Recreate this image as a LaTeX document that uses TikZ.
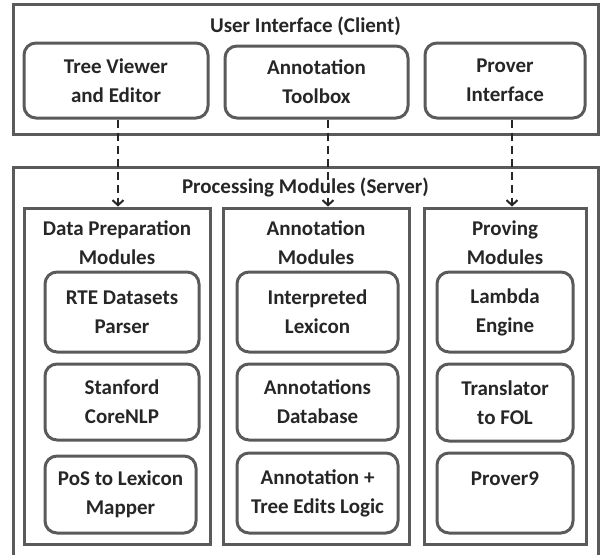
\documentclass[tikz,border=0pt]{standalone}
\usepackage{fontspec}
\setmainfont{Carlito}
\usetikzlibrary{arrows.meta}
\definecolor{linegray}{HTML}{5A5A5A}
\definecolor{txt}{HTML}{262626}
\tikzset{
  outerbox/.style={draw=linegray, line width=3pt, rectangle, inner sep=0pt},
  subbox/.style={draw=linegray, line width=3pt, rectangle, inner sep=0pt},
  modbox/.style={draw=linegray, line width=3pt, rectangle, rounded corners=12pt, inner sep=0pt, align=center, text=txt,
     font=\fontsize{21}{29}\selectfont\bfseries},
  titletext/.style={align=center, text=txt, inner sep=0pt, font=\fontsize{21}{29}\selectfont\bfseries},
  arr/.style={draw=black!85, line width=2pt, dash pattern=on 8pt off 5pt, -{Straight Barb[length=5pt,width=11pt,line width=2pt]}}
}
\begin{document}
\begin{tikzpicture}[x=1pt,y=-1pt]
\useasboundingbox (0,0) rectangle (601,554);
% top
\node[outerbox, minimum width=585pt, minimum height=130pt] (ui) at (305.5,69) {};
\node[titletext] (uiT) at (305.5,26) {User Interface (Client)};
\node[modbox, minimum width=184pt, minimum height=75pt] (tv) at (116,80.5) {Tree Viewer\\and Editor};
\node[modbox, minimum width=183pt, minimum height=72pt] (at) at (316.5,82) {Annotation\\Toolbox};
\node[modbox, minimum width=160pt, minimum height=75pt] (pi) at (505,80.5) {Prover\\Interface};
% bottom
\node[outerbox, minimum width=585pt, minimum height=390pt] (srv) at (305.5,362) {};
\node[titletext] (srvT) at (305.5,187) {Processing Modules (Server)};
\node[subbox, minimum width=186pt, minimum height=336pt] (dp) at (117,376) {};
\node[subbox, minimum width=186pt, minimum height=336pt] (am) at (316,376) {};
\node[subbox, minimum width=162pt, minimum height=336pt] (pm) at (505,376) {};
\node[titletext] (dpT) at (117,243) {Data Preparation\\Modules};
\node[titletext] (amT) at (316,243) {Annotation\\Modules};
\node[titletext] (pmT) at (505,243) {Proving\\Modules};
% modules
\node[modbox, minimum width=154pt, minimum height=80pt] (rte) at (122,312) {RTE Datasets\\Parser};
\node[modbox, minimum width=154pt, minimum height=76pt] (snlp) at (122,402) {Stanford\\CoreNLP};
\node[modbox, minimum width=151pt, minimum height=77pt] (pos) at (120.5,494.5) {PoS to Lexicon\\Mapper};
\node[modbox, minimum width=161pt, minimum height=80pt] (il) at (317.5,312) {Interpreted\\Lexicon};
\node[modbox, minimum width=161pt, minimum height=76pt] (adb) at (317.5,402) {Annotations\\Database};
\node[modbox, minimum width=161pt, minimum height=80pt] (atl) at (317.5,493) {Annotation +\\Tree Edits Logic};
\node[modbox, minimum width=136pt, minimum height=80pt] (le) at (505,312) {Lambda\\Engine};
\node[modbox, minimum width=136pt, minimum height=77pt] (tf) at (505,402.5) {Translator\\to FOL};
\node[modbox, minimum width=136pt, minimum height=80pt] (p9) at (505,493) {Prover9\\\phantom{X}};
% arrows
\coordinate (x1) at (118,0);
\coordinate (x2) at (328,0);
\coordinate (x3) at (512,0);
\draw[arr] (tv.south -| x1) -- (dp.north -| x1);
\draw[arr] (at.south -| x2) -- (am.north -| x2);
\draw[arr] (pi.south -| x3) -- (pm.north -| x3);
\end{tikzpicture}
\end{document}
